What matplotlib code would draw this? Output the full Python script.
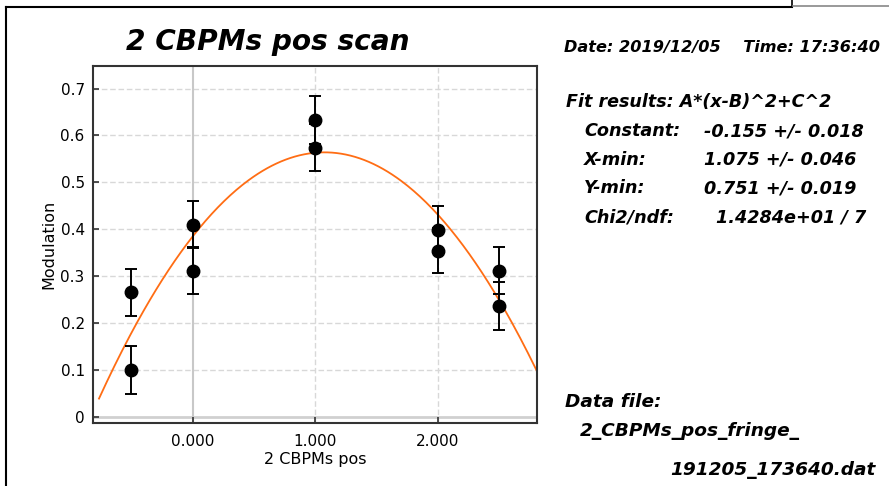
import numpy as np
import matplotlib
matplotlib.use("Agg")
import matplotlib.pyplot as plt
from matplotlib.lines import Line2D

# scan points
pos = [-0.5, -0.5, 0.0, 0.0, 1.0, 1.0, 2.0, 2.0, 2.5, 2.5]
modulation = [0.266, 0.100, 0.410, 0.312, 0.633, 0.574, 0.399, 0.354, 0.312, 0.236]
mod_err = [0.050, 0.051, 0.050, 0.050, 0.052, 0.050, 0.050, 0.048, 0.050, 0.051]

# fit A*(x-B)^2 + C^2
fit_A = -0.155
fit_B = 1.075
fit_C = 0.751

xticks = [0.0, 1.0, 2.0]
xtick_labels = ["0.000", "1.000", "2.000"]
yticks = [0, 0.1, 0.2, 0.3, 0.4, 0.5, 0.6, 0.7]
ytick_labels = ["0", "0.1", "0.2", "0.3", "0.4", "0.5", "0.6", "0.7"]

fit_labels = ["Constant:", "X-min:", "Y-min:", "Chi2/ndf:"]
fit_values = ["-0.155 +/- 0.018", "1.075 +/- 0.046", "0.751 +/- 0.019", "1.4284e+01 / 7"]

W, H = 889, 486
fig = plt.figure(figsize=(W / 100, H / 100), dpi=100)
ax = fig.add_axes([93 / W, 1 - 423 / H, (537 - 93) / W, (423 - 66) / H])

sans = "DejaVu Sans"

# grid + zero lines
for yt in yticks[1:]:
    ax.axhline(yt, color="#d8d8d8", lw=1, ls=(0, (4, 2)), zorder=0)
for xt in xticks[1:]:
    ax.axvline(xt, color="#d8d8d8", lw=1, ls=(0, (4, 2)), zorder=0)
ax.axhline(0, color="#d0d0d0", lw=2, zorder=0)
ax.axvline(0, color="#c8c8c8", lw=1.5, zorder=0)

xx = np.linspace(-0.765, 3.0, 300)
ax.plot(xx, fit_A * (xx - fit_B) ** 2 + fit_C ** 2, color="#ff6d14", lw=1.3, zorder=2)

ax.errorbar(pos, modulation, yerr=mod_err, fmt="o", color="black", ms=9,
            ecolor="black", elinewidth=1.4, capsize=4, capthick=1.4, zorder=3)

ax.set_xlim(-0.814, 2.81)
ax.set_ylim(-0.0128, 0.748)
ax.set_xticks(xticks)
ax.set_xticklabels(xtick_labels, fontfamily=sans, fontsize=11)
ax.set_yticks(yticks)
ax.set_yticklabels(ytick_labels, fontfamily=sans, fontsize=11)
ax.tick_params(direction="in", length=4, width=1.2, color="#333333", pad=6)
ax.tick_params(axis="x", pad=8)
for s in ax.spines.values():
    s.set_color("#333333")
    s.set_linewidth(1.5)

ax.set_xlabel("2 CBPMs pos", fontfamily=sans, fontsize=11.5, labelpad=2)
ax.set_ylabel("Modulation", fontfamily=sans, fontsize=11.5, labelpad=3)

def px(x, y):
    return x / W, 1 - y / H

bi = dict(fontfamily="DejaVu Sans", fontweight="bold", fontstyle="italic")
fig.text(*px(268, 42), "2 CBPMs pos scan", ha="center", va="center", fontsize=20.2, **bi)
fig.text(*px(564, 47), "Date: 2019/12/05    Time: 17:36:40", ha="left", va="center",
         fontsize=11.6, **bi)
fig.text(*px(566, 102), "Fit results: A*(x-B)^2+C^2", ha="left", va="center", fontsize=12.6, **bi)
for i, (lab, val) in enumerate(zip(fit_labels, fit_values)):
    y = 131 + i * 28.7
    fig.text(*px(584, y), lab, ha="left", va="center", fontsize=12.7, **bi)
    x0 = 716 if i == 3 else 704
    fig.text(*px(x0, y), val, ha="left", va="center", fontsize=12.7, **bi)
fig.text(*px(565, 402), "Data file:", ha="left", va="center", fontsize=13.3, **bi)
fig.text(*px(580, 431), "2_CBPMs_pos_fringe_", ha="left", va="center", fontsize=13.3, **bi)
fig.text(*px(876, 470), "191205_173640.dat", ha="right", va="center", fontsize=13.3, **bi)

# outer frame bits
fig.add_artist(Line2D([6 / W, 792 / W], [1 - 7 / H, 1 - 7 / H], color="black", lw=1.5))
fig.add_artist(Line2D([6 / W, 6 / W], [1 - 7 / H, 0], color="black", lw=1.5))
fig.add_artist(Line2D([792 / W, 792 / W], [1, 1 - 7 / H], color="black", lw=1.2))
fig.add_artist(Line2D([793 / W, 1], [1 - 6 / H, 1 - 6 / H], color="#888888", lw=1.2))

fig.savefig("out.png", dpi=100)
